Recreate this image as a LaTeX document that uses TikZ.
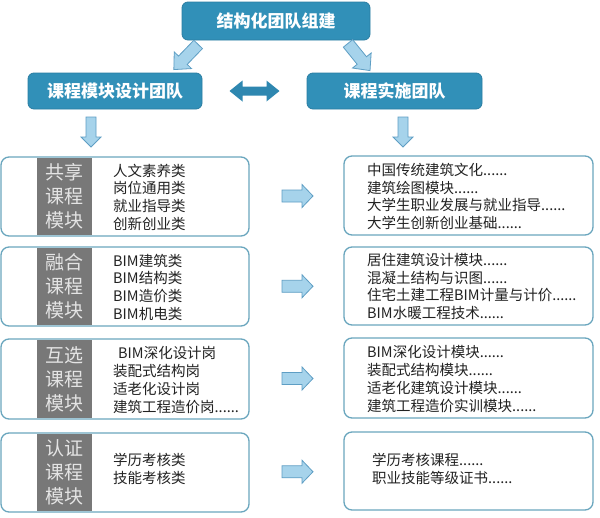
\documentclass[tikz,border=0pt]{standalone}
\usepackage{fontspec}
\setmainfont{Noto Sans CJK SC}
\usetikzlibrary{calc}
\definecolor{teal1}{HTML}{3190B8}
\definecolor{teal2}{HTML}{2A7DA2}
\definecolor{modborder}{HTML}{6AA6BE}
\definecolor{graylab}{HTML}{787878}
\definecolor{graytxt}{HTML}{E4E4E4}
\definecolor{arrfill}{HTML}{A6D3EB}
\definecolor{arrdraw}{HTML}{5E9EC4}
\definecolor{darkarr}{HTML}{2E87B0}
\definecolor{txt}{HTML}{222222}
\newcommand{\barrowpath}[4]{({-#1/2},{-#3/2}) -- ({#1/2-#2},{-#3/2}) -- ({#1/2-#2},{-#4/2}) -- ({#1/2},0) -- ({#1/2-#2},{#4/2}) -- ({#1/2-#2},{#3/2}) -- ({-#1/2},{#3/2}) -- cycle}
\newcommand{\dbarrowpath}[4]{({-#1/2},0) -- ({-#1/2+#2},{-#4/2}) -- ({-#1/2+#2},{-#3/2}) -- ({#1/2-#2},{-#3/2}) -- ({#1/2-#2},{-#4/2}) -- ({#1/2},0) -- ({#1/2-#2},{#4/2}) -- ({#1/2-#2},{#3/2}) -- ({-#1/2+#2},{#3/2}) -- ({-#1/2+#2},{#4/2}) -- cycle}
\tikzset{
  teambox/.style={draw=teal2, line width=0.8pt, fill=teal1, rounded corners=6pt, text=white, font=\fontsize{17}{20}\selectfont\bfseries, inner sep=0pt},
  modbox/.style={draw=modborder, line width=1.3pt, fill=white, rounded corners=8pt, inner sep=0pt},
  labbox/.style={fill=graylab, text=graytxt, inner sep=0pt, align=center, font=\fontsize{19}{24}\selectfont},
  listtxt/.style={anchor=west, align=left, text=txt, inner sep=0pt, font=\fontsize{14.5}{17.7}\selectfont},
  lightarr/.style={fill=arrfill, draw=arrdraw, line width=0.8pt, line join=miter},
  darkarrow/.style={fill=darkarr, draw=darkarr, line width=0.5pt}
}
\begin{document}
\begin{tikzpicture}[x=1pt,y=-1pt]
\useasboundingbox[fill=white] (0,0) rectangle (600,517);
% team boxes
\node[teambox, minimum width=188pt, minimum height=38pt] (top) at (276,21) {结构化团队组建};
\node[teambox, minimum width=174pt, minimum height=36pt] (lt) at (115,91) {课程模块设计团队};
\node[teambox, minimum width=175pt, minimum height=36pt] (rt) at (394.5,91) {课程实施团队};
% arrows between teams
\path[darkarrow] ($(lt.east)!0.5!(rt.west)$) coordinate (mid);
\begin{scope}[shift={(mid)}]
\fill[darkarr] \dbarrowpath{50}{13}{9}{21};
\end{scope}
\begin{scope}[shift={(186,57)}, rotate=226]
\draw[lightarr] \barrowpath{35}{13}{12}{24};
\end{scope}
\begin{scope}[shift={(359,57)}, rotate=-51]
\draw[lightarr] \barrowpath{35}{13}{12}{24};
\end{scope}
\begin{scope}[shift={(91,132)}, rotate=-90]
\draw[lightarr] \barrowpath{30}{10}{10}{20};
\end{scope}
\begin{scope}[shift={(403,132)}, rotate=-90]
\draw[lightarr] \barrowpath{30}{10}{10}{20};
\end{scope}
% left module boxes
\node[modbox, minimum width=248pt, minimum height=79pt] (l1) at (125,196.5) {};
\node[modbox, minimum width=248pt, minimum height=79pt] (l2) at (125,286.5) {};
\node[modbox, minimum width=248pt, minimum height=80pt] (l3) at (125,379) {};
\node[modbox, minimum width=248pt, minimum height=79pt] (l4) at (125,472.5) {};
% right boxes
\node[modbox, minimum width=249pt, minimum height=79pt] (r1) at (468.5,195.5) {};
\node[modbox, minimum width=249pt, minimum height=78pt] (r2) at (468.5,286) {};
\node[modbox, minimum width=249pt, minimum height=80pt] (r3) at (468.5,378) {};
\node[modbox, minimum width=249pt, minimum height=78pt] (r4) at (468.5,471) {};
% gray labels
\node[labbox, minimum width=55pt, minimum height=77pt] (g1) at (64.5,196.5) {共享\\课程\\模块};
\node[labbox, minimum width=55pt, minimum height=77pt] (g2) at (64.5,286.5) {融合\\课程\\模块};
\node[labbox, minimum width=55pt, minimum height=78pt] (g3) at (64.5,379) {互选\\课程\\模块};
\node[labbox, minimum width=55pt, minimum height=77pt] (g4) at (64.5,472.5) {认证\\课程\\模块};
% left lists
\node[listtxt] (t1) at (113,197) {人文素养类\\岗位通用类\\就业指导类\\创新创业类};
\node[listtxt] (t2) at (113,287) {BIM建筑类\\BIM结构类\\BIM造价类\\BIM机电类};
\node[listtxt] (t3) at (113,380) {\hspace*{5pt}BIM深化设计岗\\装配式结构岗\\适老化设计岗\\建筑工程造价岗......};
\node[listtxt] (t4) at (113,469) {学历考核类\\技能考核类};
% right lists
\node[listtxt] (s1) at (367,196.5) {中国传统建筑文化......\\建筑绘图模块......\\大学生职业发展与就业指导......\\大学生创新创业基础......};
\node[listtxt] (s2) at (367,286.5) {居住建筑设计模块......\\混凝土结构与识图......\\住宅土建工程BIM计量与计价......\\BIM水暖工程技术......};
\node[listtxt] (s3) at (367,379) {BIM深化设计模块......\\装配式结构模块......\\适老化建筑设计模块......\\建筑工程造价实训模块......};
\node[listtxt] (s4) at (372,469) {学历考核课程......\\职业技能等级证书......};
% middle arrows
\foreach \i in {1,2,3,4}{
  \begin{scope}[shift={($(l\i.east)!0.5!(r\i.west)+(1,0)$)}]
  \draw[lightarr] \barrowpath{31}{11}{12}{23};
  \end{scope}
}
\end{tikzpicture}
\end{document}
